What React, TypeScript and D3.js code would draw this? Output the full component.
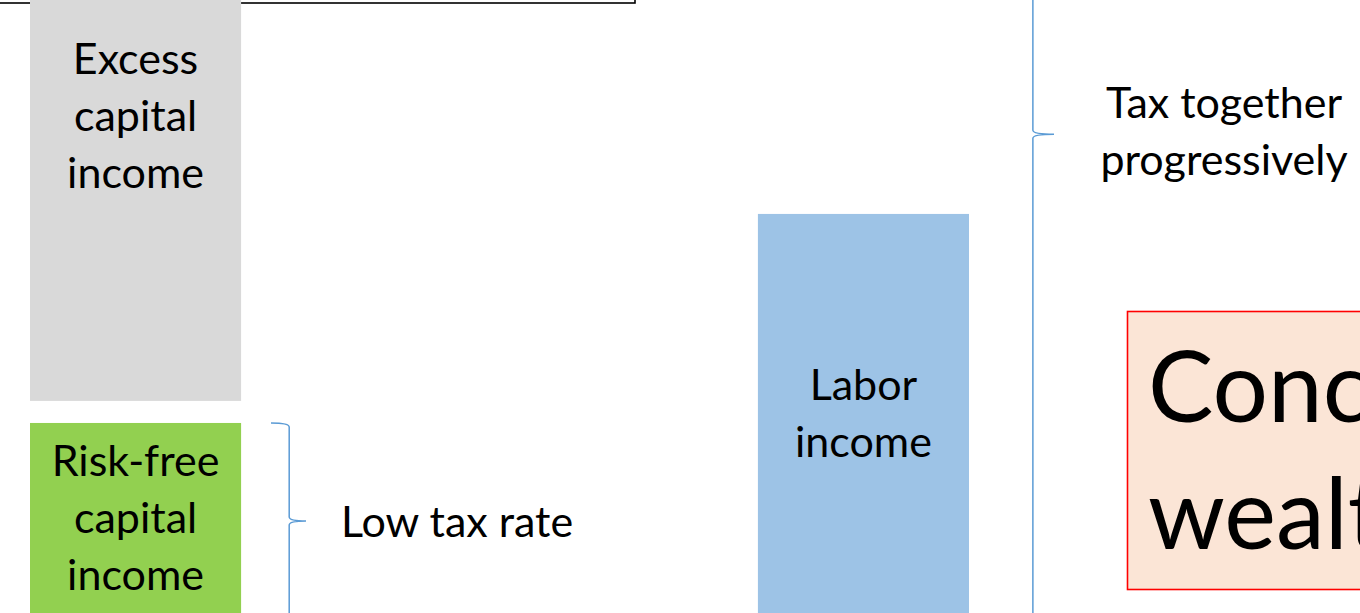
import React from 'react';
import * as d3 from 'd3';

const W = 1360;
const H = 613;

// columns of the picture, and the blocks stacked in them (value units, 0..100 of the slide height)
const columns = ['capital', 'labor'];
const blockNames = ['Risk-free capital income', 'Excess capital income', 'Labor income'];
const blockColumn = ['capital', 'capital', 'labor'];
const blockStart = [0, 34.6, 0];
const blockEnd = [31.0, 104, 65.1];
const blockFill = ['#92d050', '#d9d9d9', '#9dc3e6'];
const blockLines = [
    ['Risk-free', 'capital', 'income'],
    ['Excess', 'capital', 'income'],
    ['Labor', 'income'],
];

// braces, in the same value units (bottom, top)
const braceFrom = [-1.0, -2.0];
const braceTo = [31.0, 158.2];
const braceLabel = [['Low tax rate'], ['Tax together', 'progressively']];

const noteLines = ['Concentrated', 'wealth'];

const FONT = 'Lato, "Open Sans", sans-serif';

function bracePath(x: number, yTop: number, yBot: number, depth: number) {
    // right-facing curly brace: hooks start at x, spine at x + depth * 0.52, tip at x + depth
    const p = d3.path();
    const spine = x + depth * 0.52;
    const tip = x + depth;
    const mid = (yTop + yBot) / 2;
    const r = 4;
    p.moveTo(x, yTop);
    p.quadraticCurveTo(spine, yTop, spine, yTop + r);
    p.lineTo(spine, mid - r);
    p.quadraticCurveTo(spine, mid, tip, mid);
    p.quadraticCurveTo(spine, mid, spine, mid + r);
    p.lineTo(spine, yBot - r);
    p.quadraticCurveTo(spine, yBot, x, yBot);
    return p.toString();
}

export default function App() {
    const x = d3.scaleBand<string>().domain(columns).range([30, 969]).paddingInner(0.71).paddingOuter(0);
    const y = d3.scaleLinear().domain([0, 100]).range([H, 0]);
    const bw = x.bandwidth();
    const lineH = 57;
    const fs = 43;

    const braceX = [271, 1010];
    const braceDepth = [35, 44];

    return (
        <>
            <style>{'body{margin:0}'}</style>
            <svg width={W} height={H} style={{ display: 'block', background: '#fff' }}>
                {/* frame of the title box above */}
                <rect x={-10} y={-60} width={645} height={63} fill="#fff" stroke="#000" strokeWidth={1.6} />

                {blockNames.map((name, i) => {
                    const x0 = x(blockColumn[i]) ?? 0;
                    const top = y(blockEnd[i]);
                    const bot = y(blockStart[i]);
                    const cx = x0 + bw / 2;
                    const lines = blockLines[i];
                    // excess block text hangs from the top of the slide, the others are centred
                    const visTop = Math.max(top, 0);
                    const first =
                        i === 1
                            ? visTop + 74
                            : (visTop + bot) / 2 - ((lines.length - 1) * lineH) / 2 + 15;
                    return (
                        <g key={name}>
                            <rect x={x0} y={top} width={bw} height={bot - top} fill={blockFill[i]} />
                            {lines.map((t, j) => (
                                <text
                                    key={t}
                                    x={cx}
                                    y={first + j * lineH}
                                    textAnchor="middle"
                                    fontFamily={FONT}
                                    fontSize={fs}
                                    fill="#000"
                                >
                                    {t}
                                </text>
                            ))}
                        </g>
                    );
                })}

                {braceFrom.map((v, i) => {
                    const yBot = y(v);
                    const yTop = y(braceTo[i]);
                    const mid = (yTop + yBot) / 2;
                    const lines = braceLabel[i];
                    return (
                        <g key={`b-${i}`}>
                            <path
                                d={bracePath(braceX[i], yTop, yBot, braceDepth[i])}
                                fill="none"
                                stroke="#5b9bd5"
                                strokeWidth={1.5}
                            />
                            {lines.map((t, j) =>
                                i === 0 ? (
                                    <text key={t} x={341} y={mid + 16} fontFamily={FONT} fontSize={fs}>
                                        {t}
                                    </text>
                                ) : (
                                    <text
                                        key={t}
                                        x={1224}
                                        y={mid - lineH / 2 + 12 + j * lineH}
                                        textAnchor="middle"
                                        fontFamily={FONT}
                                        fontSize={fs}
                                    >
                                        {t}
                                    </text>
                                ),
                            )}
                        </g>
                    );
                })}

                {/* note box, cut by the right edge */}
                <rect x={1127.5} y={311.5} width={400} height={278} fill="#fbe5d6" stroke="#ff0000" strokeWidth={1.6} />
                {noteLines.map((t, j) => (
                    <text key={t} x={1148} y={422 + j * 127} fontFamily={FONT} fontSize={98}>
                        {t}
                    </text>
                ))}
            </svg>
        </>
    );
}
